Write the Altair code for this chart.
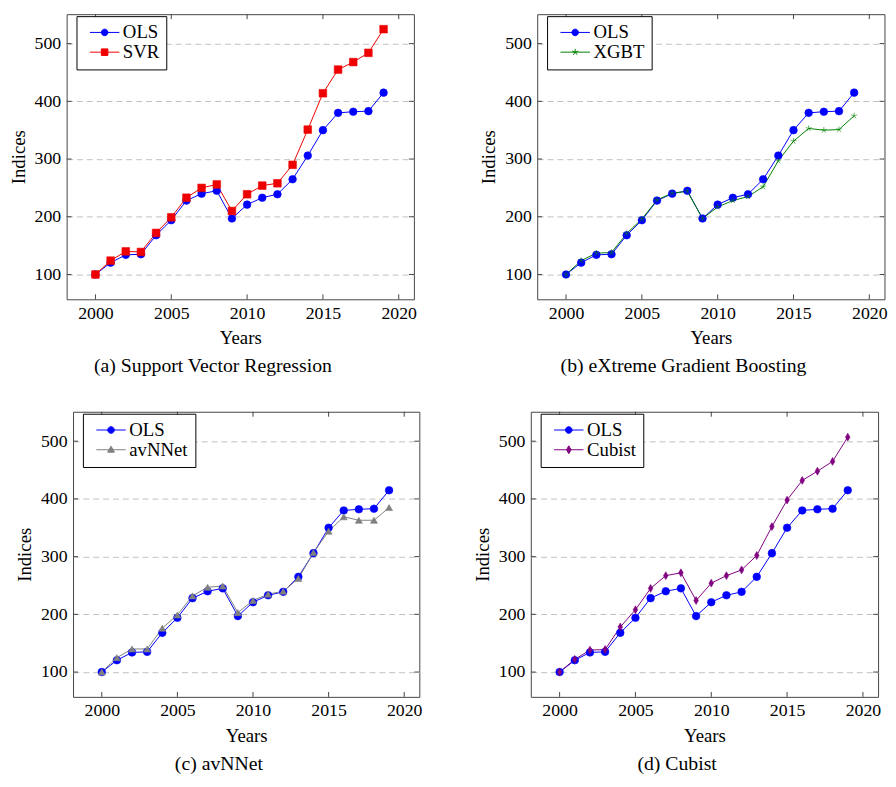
import altair as alt
import pandas as pd

years = [2000, 2001, 2002, 2003, 2004, 2005, 2006, 2007, 2008, 2009,
         2010, 2011, 2012, 2013, 2014, 2015, 2016, 2017, 2018, 2019]
ols = [100, 120.5, 134, 135, 168, 194, 228, 240, 245, 197,
       221, 233, 239, 265, 306, 350, 380, 382, 383, 415]
svr = [100, 124, 140, 139, 172, 199, 233, 250, 256, 210,
       239, 254, 258, 290, 351, 414, 455, 468, 484, 525]
xgbt = [100, 124, 137, 138, 171, 196, 229, 241, 244, 197,
        217, 228, 235, 252, 297, 331, 353, 350, 351, 375]
avnnet = [100, 125, 140, 140, 176, 199, 232, 247, 249, 203,
          224, 235, 240, 262, 307, 344, 369, 363, 363, 385]
cubist = [100, 122, 138, 139, 178, 208, 245, 267, 272, 224,
          254, 267, 277, 302, 352, 398, 432, 448, 465, 507]

x_ticks = [2000, 2005, 2010, 2015, 2020]
y_ticks = [100, 200, 300, 400, 500]

FONT = "Liberation Serif"
FS = 18
FRAME = "#444444"

# marker shapes for the data and the legend keys (line through the marker)
LINE = "M-4.5,0L4.5,0"
STAR = "M0,-1L0,0M0.95,-0.31L0,0M0.59,0.81L0,0M-0.59,0.81L0,0M-0.95,-0.31L0,0"
DIAMOND = "M0,-1.2L0.7,0L0,1.2L-0.7,0Z"
shapes = {
    "circle": ("circle", LINE + "M1,0A1,1,0,1,1,-1,0A1,1,0,1,1,1,0Z"),
    "square": ("square", LINE + "M-1,-1L1,-1L1,1L-1,1Z"),
    "star": (STAR, LINE + STAR),
    "triangle": ("triangle-up", LINE + "M0,-1.1L1.05,0.75L-1.05,0.75Z"),
    "diamond": (DIAMOND, LINE + DIAMOND),
}


def panel(name, vals, color, shape, msize, caption, width=352, height=289):
    n = len(years)
    df = pd.DataFrame({
        "year": years + years,
        "value": ols + vals,
        "series": ["OLS"] * n + [name] * n,
    })
    dom = ["OLS", name]
    cscale = alt.Scale(domain=dom, range=["#0000ff", color])
    mark_shape, key_shape = shapes[shape]

    x = alt.X("year:Q",
              scale=alt.Scale(domain=[1998.1, 2021], nice=False, zero=False),
              axis=alt.Axis(values=x_ticks, format="d", grid=False, ticks=False,
                            domain=False, labelPadding=5, title="Years",
                            titlePadding=7))
    y = alt.Y("value:Q",
              scale=alt.Scale(domain=[57, 551], nice=False, zero=False),
              axis=alt.Axis(values=y_ticks, grid=True, gridDash=[6, 4],
                            gridColor="#c0c0c0", ticks=False, domain=False,
                            labelPadding=6, title="Indices", titlePadding=6))

    base = alt.Chart(df)
    line = base.mark_line(strokeWidth=1).encode(
        x=x, y=y, color=alt.Color("series:N", scale=cscale, legend=None))
    points = base.mark_point(filled=True, opacity=1, strokeWidth=0.6).encode(
        x=x, y=y,
        color=alt.Color("series:N", scale=cscale, legend=None),
        stroke=alt.Stroke("series:N", scale=cscale, legend=None),
        shape=alt.Shape("series:N", scale=alt.Scale(domain=dom, range=["circle", mark_shape]),
                        legend=None),
        size=alt.Size("series:N", scale=alt.Scale(domain=dom, range=[60, msize]),
                      legend=None),
    )
    leg = alt.Legend(title=None, orient="none", legendX=10, legendY=2,
                     strokeColor="black", fillColor="white", padding=7,
                     cornerRadius=0, symbolOpacity=1, symbolSize=44,
                     symbolStrokeWidth=1, symbolOffset=12, labelOffset=9,
                     rowPadding=0, labelFont=FONT, labelFontSize=19,
                     labelColor="black")
    keys = base.mark_point(opacity=0).encode(
        x=x, y=y,
        fill=alt.Fill("series:N", scale=cscale, legend=leg),
        stroke=alt.Stroke("series:N", scale=cscale, legend=leg),
        shape=alt.Shape("series:N", scale=alt.Scale(domain=dom, range=[shapes["circle"][1], key_shape]),
                        legend=leg),
    )

    xt = alt.Chart(pd.DataFrame({"year": x_ticks}))
    yt = alt.Chart(pd.DataFrame({"value": y_ticks}))
    tick = {"color": FRAME, "strokeWidth": 1}
    ticks = [
        xt.mark_rule(**tick).encode(x=x, y=alt.value(0), y2=alt.value(5)),
        xt.mark_rule(**tick).encode(x=x, y=alt.value(height - 5), y2=alt.value(height)),
        yt.mark_rule(**tick).encode(y=y, x=alt.value(0), x2=alt.value(5)),
        yt.mark_rule(**tick).encode(y=y, x=alt.value(width - 5), x2=alt.value(width)),
    ]

    return alt.layer(line, points, keys, *ticks).resolve_scale(
        color="independent", fill="independent", stroke="independent",
        shape="independent", size="independent",
    ).properties(
        width=width, height=height,
        title=alt.TitleParams(caption, orient="bottom", frame="bounds",
                              font=FONT, fontSize=20, fontWeight="normal",
                              color="black", offset=9),
    )


a = panel("SVR", svr, "#ee0000", "square", 60, "(a) Support Vector Regression")
b = panel("XGBT", xgbt, "#008000", "star", 40, "(b) eXtreme Gradient Boosting")
c = panel("avNNet", avnnet, "#808080", "triangle", 50, "(c) avNNet", width=351)
d = panel("Cubist", cubist, "#800080", "diamond", 44, "(d) Cubist")

chart = alt.vconcat(
    alt.hconcat(a, b, spacing=62),
    alt.hconcat(c, d, spacing=50),
    spacing=34, center=True,
).properties(padding=0).configure_view(
    stroke=FRAME, strokeWidth=1
).configure_axis(
    labelFont=FONT, labelFontSize=FS, labelColor="black",
    titleFont=FONT, titleFontSize=19, titleFontWeight="normal", titleColor="black",
)

chart.save("out.html", embed_options={"renderer": "svg", "actions": False})
